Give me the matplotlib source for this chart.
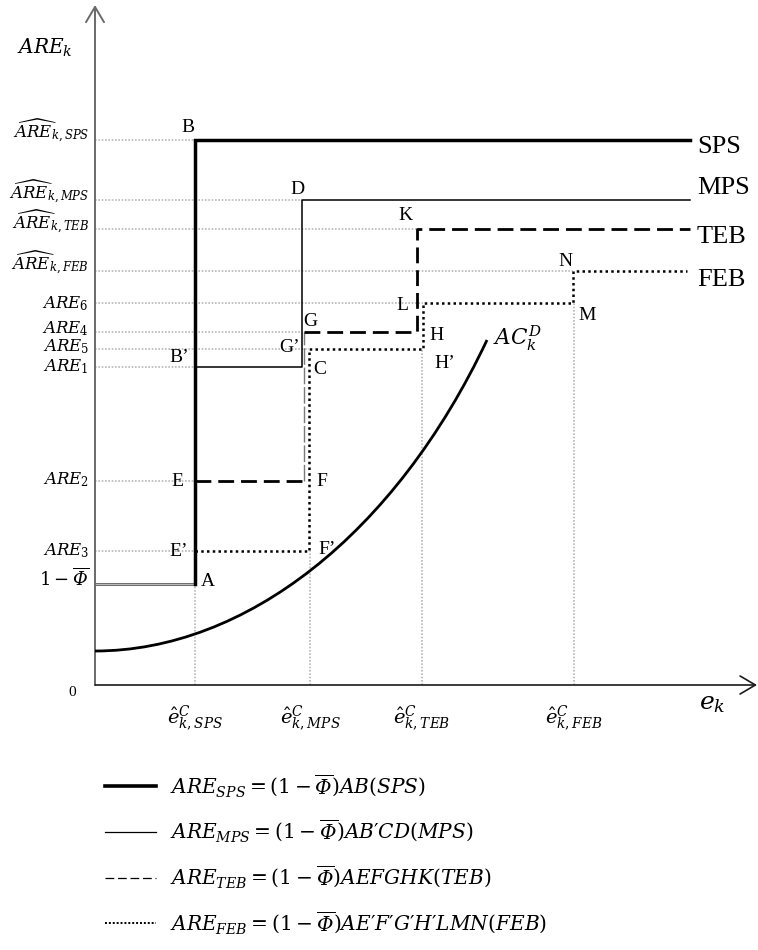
import numpy as np
import matplotlib
matplotlib.use("Agg")
import matplotlib.pyplot as plt
from matplotlib.lines import Line2D
from matplotlib.path import Path
from matplotlib.patches import PathPatch, FancyArrowPatch

plt.rcParams['font.family'] = ['Liberation Serif', 'DejaVu Serif']
plt.rcParams['mathtext.fontset'] = 'custom'
plt.rcParams['mathtext.rm'] = 'DejaVu Serif'
plt.rcParams['mathtext.it'] = 'DejaVu Serif:italic'
plt.rcParams['mathtext.bf'] = 'DejaVu Serif:italic'  # used for the italic capital Phi

# x positions of the cost thresholds (schematic units, origin at the axes corner)
e_sps, e_mps, e_teb, e_feb = 100, 215, 327, 479
x_end = 595
# kink positions of the step lines
mps_x, teb_gx, feb_cx = 207, 209, 214
teb_kx, feb_hx, feb_mx = 322, 328, 478

# y levels
phi = 101
are3, are2 = 134, 204
are1, are5, are4, are6 = 318, 336, 353, 382
hat_feb, hat_teb, hat_mps, hat_sps = 414, 456, 485, 545

sps_x = [e_sps, e_sps, x_end]
sps_y = [phi, hat_sps, hat_sps]
mps_x_pts = [e_sps, mps_x, mps_x, x_end]
mps_y_pts = [are1, are1, hat_mps, hat_mps]
teb_ef_x, teb_ef_y = [e_sps, teb_gx], [are2, are2]
teb_fg_x, teb_fg_y = [teb_gx, teb_gx], [are2, are4]
teb_gk_x = [teb_gx, teb_kx, teb_kx, x_end]
teb_gk_y = [are4, are4, hat_teb, hat_teb]
feb_x = [e_sps, feb_cx, feb_cx, feb_hx, feb_hx, feb_mx, feb_mx, x_end - 3]
feb_y = [are3, are3, are5, are5, are6, are6, hat_feb, hat_feb]

# AC_k^D curve (cubic bezier control points)
ac_x = [0, 150, 300, 392]
ac_y = [34, 34, 150, 345]

# dotted guide lines: (level, end x) and (x, end level)
h_guides = [(hat_sps, e_sps), (hat_mps, mps_x), (hat_teb, teb_kx), (hat_feb, feb_mx),
            (are6, feb_hx), (are4, teb_gx - 4), (are5, feb_cx), (are1, e_sps),
            (are2, e_sps), (are3, e_sps)]
v_guides = [(e_sps, phi), (e_mps, are3), (e_teb, are5), (e_feb, are6)]

PHI = r'\overline{\mathbf{\Phi}}'
PR = '\u2032'
y_labels = [r'$\widehat{ARE}_{k,SPS}$', r'$\widehat{ARE}_{k,MPS}$', r'$\widehat{ARE}_{k,TEB}$',
            r'$\widehat{ARE}_{k,FEB}$', r'$ARE_6$', r'$ARE_4$', r'$ARE_5$', r'$ARE_1$',
            r'$ARE_2$', r'$ARE_3$', r'$1-' + PHI + '$']
y_label_pos = [hat_sps + 9, hat_mps + 8, hat_teb + 7, hat_feb + 8, are6 - 1, are4 + 3,
               are5 + 2, are1, are2 + 1, are3, phi + 5]
y_label_size = [12, 12, 12, 12, 12, 12, 12, 12, 12, 12, 13]
x_labels = [r'$\hat{e}^{C}_{k,SPS}$', r'$\hat{e}^{C}_{k,MPS}$', r'$\hat{e}^{C}_{k,TEB}$',
            r'$\hat{e}^{C}_{k,FEB}$']
x_label_pos = [e_sps, e_mps, e_teb, e_feb]

points = ['B', 'B\u2019', 'E', 'E\u2019', 'A', 'D', 'G', 'G\u2019', 'C', 'F', 'F\u2019',
          'K', 'L', 'H', 'H\u2019', 'N', 'M']
points_x = [93, 84, 82, 84, 113, 202, 215, 195, 225, 227, 232, 310, 307, 342, 350, 470, 492]
points_y = [558, 327, 203, 134, 103, 495, 363, 338, 315, 203, 135, 469, 380, 350, 322, 423, 370]

series = ['SPS', 'MPS', 'TEB', 'FEB']
series_y = [hat_sps - 7, hat_mps + 12, hat_teb - 8, hat_feb - 9]

legend_labels = [r'$ARE_{SPS}=(1-' + PHI + r')AB(SPS)$',
                 r'$ARE_{MPS}=(1-' + PHI + r')AB' + PR + r'CD(MPS)$',
                 r'$ARE_{TEB}=(1-' + PHI + r')AEFGHK(TEB)$',
                 r'$ARE_{FEB}=(1-' + PHI + r')AE' + PR + 'F' + PR + 'G' + PR
                 + 'H' + PR + r'LMN(FEB)$']

fig = plt.figure(figsize=(7.58, 9.50), dpi=100)
ax = fig.add_axes([0, 0, 1, 1])
ax.set_xlim(-95, 663)
ax.set_ylim(-265, 685)
ax.axis('off')

grid = dict(color='#b8b8b8', lw=1.2, ls=(0, (1, 1)), zorder=1)
for lvl, xe in h_guides:
    ax.plot([0, xe], [lvl, lvl], **grid)
for xv, ye in v_guides:
    ax.plot([xv, xv], [0, ye], **grid)

# axes with open arrow heads
ax.add_patch(FancyArrowPatch((0, 0), (0, 680), arrowstyle='->,head_length=1.1,head_width=0.65',
                             mutation_scale=10, color='#6a6a6a', lw=1.4, shrinkA=0, shrinkB=0, zorder=3))
ax.add_patch(FancyArrowPatch((0, 0), (662, 0), arrowstyle='->,head_length=1.1,head_width=0.65',
                             mutation_scale=10, color='#1a1a1a', lw=1.2, shrinkA=0, shrinkB=0, zorder=3))

# 1 - Phi level (double line)
ax.plot([0, e_sps], [phi, phi], color='#707070', lw=2.2, solid_capstyle='butt', zorder=2)
ax.plot([0, e_sps], [phi, phi], color='#c8c8c8', lw=0.6, solid_capstyle='butt', zorder=2)

ax.plot(mps_x_pts, mps_y_pts, color='black', lw=1.1, zorder=4)
ax.plot(teb_ef_x, teb_ef_y, color='black', lw=2.0, ls=(0, (5.7, 2.5)), zorder=4)
ax.plot(teb_fg_x, teb_fg_y, color='#7a7a7a', lw=1.0, ls=(0, (12, 2)), zorder=4)
ax.plot(teb_gk_x, teb_gk_y, color='black', lw=2.0, ls=(0, (5.7, 2.5)), zorder=4)
ax.plot(feb_x, feb_y, color='black', lw=1.8, ls=(0, (1, 1.3)), zorder=4)
ax.plot(sps_x, sps_y, color='black', lw=2.5, solid_joinstyle='miter', zorder=5)

ac = Path(list(zip(ac_x, ac_y)), [Path.MOVETO, Path.CURVE4, Path.CURVE4, Path.CURVE4])
ax.add_patch(PathPatch(ac, facecolor='none', edgecolor='black', lw=2.0, zorder=4))
ax.text(ac_x[-1] + 6, ac_y[-1] + 2, r'$AC_k^D$', fontsize=15.5, ha='left', va='center')

for lab, y, fs in zip(y_labels, y_label_pos, y_label_size):
    ax.text(-6, y, lab, fontsize=fs, ha='right', va='center')
ax.text(-50, 637, r'$ARE_k$', fontsize=14.5, ha='center', va='center')
ax.text(-23, -7, '0', fontsize=11, ha='center', va='center')

for lab, x in zip(x_labels, x_label_pos):
    ax.text(x, -33, lab, fontsize=14, ha='center', va='center')
ax.text(617, -19, r'$e_k$', fontsize=18, ha='center', va='center')

for lab, x, y in zip(points, points_x, points_y):
    ax.text(x, y, lab, fontsize=14, ha='center', va='center')
for lab, y in zip(series, series_y):
    ax.text(602, y, lab, fontsize=19, ha='left', va='center')

handles = [Line2D([], [], color='black', lw=2.6),
           Line2D([], [], color='black', lw=0.9),
           Line2D([], [], color='black', lw=0.9, ls=(0, (7, 3))),
           Line2D([], [], color='black', lw=1.4, ls=(0, (1, 1)))]
fig.legend(handles, legend_labels, loc='upper left', bbox_to_anchor=(105 / 758, 1 - 772 / 950),
           frameon=False, fontsize=14.5, handlelength=2.55, handletextpad=0.7,
           labelspacing=0.95, borderpad=0, borderaxespad=0)

fig.savefig('out.png', dpi=100)
